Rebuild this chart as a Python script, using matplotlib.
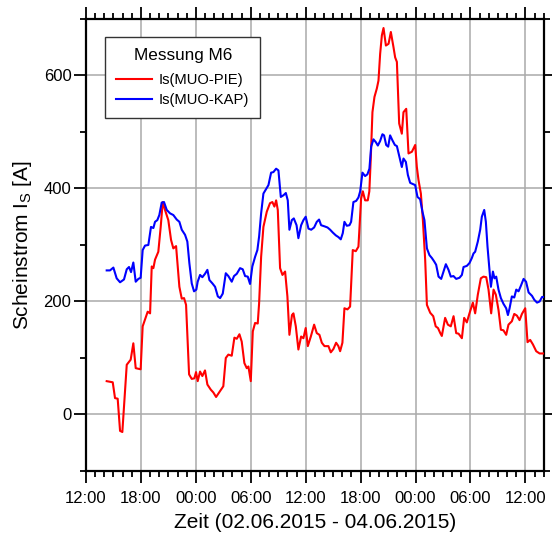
import matplotlib

matplotlib.use("Agg")
import matplotlib.dates as mdates
import matplotlib.pyplot as plt
import numpy as np
import pandas as pd
from matplotlib.ticker import MultipleLocator

plt.rcParams["font.family"] = ["Liberation Sans", "DejaVu Sans"]

START = pd.Timestamp("2015-06-02 12:00")
END = pd.Timestamp("2015-06-04 14:00")

# hours after 02.06.2015 12:00, apparent current in A
pie_hours = [
    2.26, 2.92, 3.17, 3.46, 3.72, 3.97, 4.45, 4.88, 5.17, 5.43, 5.97, 6.19, 6.74, 7.0, 7.18,
    7.36, 7.54, 7.9, 8.16, 8.38, 8.63, 8.99, 9.29, 9.54, 9.84, 10.2, 10.46, 10.71, 10.93, 11.26,
    11.55, 11.84, 12.02, 12.2, 12.46, 12.71, 13.0, 13.26, 13.63, 13.91, 14.21, 14.54, 15.0, 15.27,
    15.55, 15.92, 16.21, 16.47, 16.76, 17.01, 17.3, 17.56, 17.74, 18.0, 18.22, 18.47, 18.76, 18.91,
    19.13, 19.38, 19.75, 20.1, 20.36, 20.58, 20.77, 20.95, 21.2, 21.46, 21.75, 22.0, 22.22, 22.5,
    22.66, 22.92, 23.2, 23.5, 23.75, 24.0, 24.23, 24.56, 24.92, 25.21, 25.5, 25.76, 26.05, 26.48,
    26.74, 27.03, 27.32, 27.57, 27.76, 28.01, 28.23, 28.56, 28.85, 29.14, 29.47, 29.76, 30.05,
    30.24, 30.49, 30.78, 30.95, 31.1, 31.29, 31.51, 31.77, 31.95, 32.13, 32.32, 32.5, 32.76, 33.05,
    33.3, 33.59, 33.77, 33.96, 34.21, 34.5, 34.68, 34.98, 35.23, 35.6, 35.96, 36.14, 36.32, 36.58,
    36.8, 37.05, 37.24, 37.6, 37.93, 38.2, 38.45, 38.7, 38.87, 39.23, 39.53, 39.85, 40.15, 40.44,
    40.7, 41.06, 41.31, 41.6, 41.89, 42.26, 42.51, 42.8, 43.13, 43.42, 43.72, 43.97, 44.26, 44.52,
    44.77, 45.06, 45.32, 45.6, 45.9, 46.15, 46.52, 46.78, 47.07, 47.36, 47.62, 47.98, 48.23, 48.52,
    48.82, 49.18, 49.55, 50.0,
]
pie_amps = [
    59, 57, 29, 28, -29, -31, 88, 97, 126, 82, 80, 156, 182, 179, 262,
    259, 274, 288, 332, 376, 362, 344, 309, 294, 298, 226, 205, 206, 194, 71,
    63, 64, 75, 59, 76, 68, 78, 53, 44, 39, 31, 39, 50, 100,
    106, 104, 136, 134, 142, 129, 91, 82, 85, 59, 147, 162, 161, 197,
    279, 332, 359, 374, 376, 368, 379, 362, 259, 247, 253, 209, 141, 176,
    179, 156, 115, 138, 135, 153, 121, 138, 159, 144, 141, 127, 121, 121,
    110, 116, 127, 121, 112, 127, 188, 186, 191, 291, 289, 297, 382,
    395, 379, 379, 395, 450, 535, 562, 577, 591, 638, 671, 684, 653, 656,
    677, 650, 632, 624, 515, 497, 535, 541, 462, 465, 477, 438, 415, 391,
    344, 274, 194, 180, 174, 156, 153, 144, 139, 171, 159, 156, 174, 144,
    143, 135, 171, 163, 179, 198, 179, 212, 241, 244, 243, 221, 179, 221,
    212, 185, 150, 149, 141, 159, 165, 178, 175, 167, 178, 188, 128, 132,
    124, 112, 108, 108,
]

kap_hours = [
    2.26, 2.62, 2.99, 3.35, 3.72, 4.15, 4.45, 4.7, 4.92, 5.17, 5.43, 5.72, 5.97, 6.19, 6.45,
    6.81, 7.1, 7.36, 7.54, 7.79, 8.01, 8.27, 8.52, 8.82, 9.18, 9.54, 9.91, 10.2, 10.46, 10.82,
    11.07, 11.29, 11.55, 11.8, 12.05, 12.2, 12.46, 12.71, 13.0, 13.26, 13.48, 13.81, 14.1, 14.4,
    14.65, 14.94, 15.27, 15.55, 15.92, 16.17, 16.47, 16.83, 17.12, 17.38, 17.67, 17.92, 18.17,
    18.47, 18.72, 18.91, 19.13, 19.38, 19.64, 19.93, 20.22, 20.47, 20.77, 21.02, 21.28, 21.57,
    21.83, 22.04, 22.22, 22.48, 22.7, 23.0, 23.2, 23.5, 23.75, 24.0, 24.3, 24.6, 24.92, 25.21,
    25.46, 25.68, 26.05, 26.38, 26.67, 26.96, 27.29, 27.57, 27.83, 28.05, 28.23, 28.49, 28.78,
    28.96, 29.21, 29.51, 29.76, 29.95, 30.2, 30.49, 30.74, 30.96, 31.15, 31.4, 31.66, 31.88,
    32.13, 32.38, 32.56, 32.79, 33.01, 33.22, 33.48, 33.74, 33.96, 34.24, 34.5, 34.68, 34.94,
    35.16, 35.41, 35.7, 35.96, 36.21, 36.5, 36.75, 36.97, 37.24, 37.52, 37.78, 38.03, 38.25,
    38.51, 38.8, 39.05, 39.31, 39.6, 39.85, 40.14, 40.44, 40.8, 41.06, 41.24, 41.6, 41.89, 42.15,
    42.33, 42.51, 42.8, 43.06, 43.24, 43.5, 43.68, 43.86, 44.04, 44.23, 44.45, 44.62, 44.81,
    45.06, 45.32, 45.6, 45.9, 46.09, 46.27, 46.52, 46.78, 47.0, 47.25, 47.51, 47.8, 48.07, 48.35,
    48.72, 48.97, 49.27, 49.55, 49.82, 50.0,
]
kap_amps = [
    255, 255, 260, 241, 234, 239, 257, 261, 252, 269, 235, 240, 242, 291, 299,
    300, 332, 330, 341, 344, 353, 375, 376, 362, 356, 353, 345, 341, 327, 318,
    306, 268, 232, 218, 221, 235, 247, 243, 249, 256, 238, 232, 226, 209,
    206, 214, 250, 245, 235, 245, 249, 259, 257, 245, 244, 231, 262,
    279, 291, 315, 356, 391, 398, 406, 428, 429, 435, 432, 385, 388,
    392, 379, 327, 344, 347, 335, 312, 335, 344, 350, 329, 327, 331, 341,
    345, 335, 333, 331, 327, 322, 317, 314, 310, 321, 341, 334, 335,
    341, 376, 378, 384, 395, 428, 422, 425, 435, 474, 487, 482, 476,
    484, 496, 494, 477, 474, 494, 485, 477, 475, 456, 438, 453, 447,
    424, 410, 408, 406, 385, 381, 359, 344, 294, 282, 277, 271, 265,
    244, 240, 253, 266, 256, 244, 245, 240, 242, 247, 261, 263, 268, 277,
    285, 288, 306, 327, 350, 362, 341, 297, 262, 226, 253, 241, 244,
    221, 206, 196, 188, 176, 188, 209, 207, 221, 218, 228, 240, 235, 216,
    210, 203, 198, 200, 208, 208,
]

series = [
    ("Is(MUO-PIE)", pie_hours, pie_amps, "#ff0000"),
    ("Is(MUO-KAP)", kap_hours, kap_amps, "#0000ff"),
]

fig = plt.figure(figsize=(5.52, 5.42), dpi=100)
ax = fig.add_axes([0.1558, 0.131, 0.8292, 0.834])

for label, hours, amps, color in series:
    times = START + pd.to_timedelta(np.asarray(hours), unit="h")
    ax.plot(times, amps, color=color, lw=1.5, label=label, zorder=3)

ax.set_xlim(START, END)
ax.set_ylim(-100, 700)

ax.xaxis.set_major_locator(mdates.HourLocator(byhour=range(0, 24, 6)))
ax.xaxis.set_minor_locator(mdates.HourLocator())
ax.xaxis.set_major_formatter(mdates.DateFormatter("%H:%M"))
ax.yaxis.set_major_locator(MultipleLocator(200))
ax.yaxis.set_minor_locator(MultipleLocator(100))

ax.grid(True, which="major", color="#aaaaaa", lw=1.1, zorder=0)
for side in ax.spines.values():
    side.set_linewidth(1.6)

ax.tick_params(which="both", direction="out", top=True, right=True, width=1.3, labelsize=12)
ax.tick_params(which="major", length=8.5)
ax.tick_params(which="minor", length=4.5)
ax.tick_params(axis="x", pad=6)
ax.tick_params(axis="y", pad=2)

ax.set_xlabel("Zeit (02.06.2015 - 04.06.2015)", fontsize=15, labelpad=5)
ax.set_ylabel(r"Scheinstrom I$_\mathregular{S}$ [A]", fontsize=15, labelpad=7)

leg = ax.legend(
    title="Messung M6",
    loc="upper left",
    bbox_to_anchor=(0.042, 0.96),
    borderaxespad=0,
    fontsize=10.6,
    title_fontsize=12.3,
    fancybox=False,
    framealpha=1,
    edgecolor="#333333",
    handlelength=2.4,
    handletextpad=0.5,
    borderpad=0.75,
    labelspacing=0.4,
)
leg.get_frame().set_linewidth(1.0)
leg._legend_box.sep = 7

fig.savefig("out.png", dpi=100)
